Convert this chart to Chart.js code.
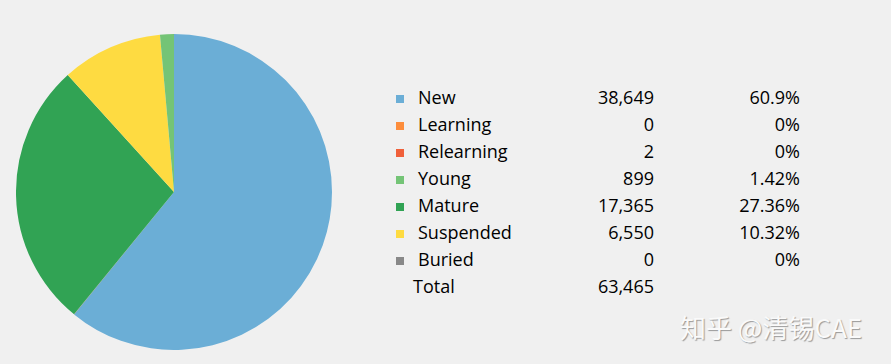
<!DOCTYPE html>
<html>
<head>
<meta charset="utf-8">
<script src="https://cdn.jsdelivr.net/npm/chart.js@4"></script>
<style>
  body { margin: 0; width: 891px; height: 364px; background: #f0f0f0; overflow: hidden; position: relative; font-family: "Open Sans", "Noto Sans", sans-serif; }
  #pieWrap { position: absolute; left: 16px; top: 34px; width: 316px; height: 316px; }
  #title { position: absolute; top: -24px; left: 0; width: 428px; text-align: center; font-size: 18px; color: #000; }
  #legend { position: absolute; left: 392px; top: 84px; border-collapse: collapse; font-size: 18px; color: #000; }
  #legend td { height: 27px; padding: 0; line-height: 27px; }
  .sw { width: 26px; }
  .sw span { display: inline-block; width: 8px; height: 8px; margin-left: 4px; vertical-align: middle; }
  .lbl { width: 150px; }
  .num { width: 86px; text-align: right; }
  .pct { width: 146px; text-align: right; }
  #mark { position: absolute; left: 680px; top: 308px; font-size: 26px; color: #fafafa; font-family: "Noto Sans CJK SC", sans-serif; text-shadow: 1px 1px 1px #999; letter-spacing: 0px; }
</style>
</head>
<body>
<div id="title">Card Composition</div>
<div id="pieWrap"><canvas id="pieChart" width="316" height="316"></canvas></div>
<table id="legend"></table>
<div id="mark">知乎 @清锡CAE</div>
<script>
const categories = ["New", "Learning", "Relearning", "Young", "Mature", "Suspended", "Buried"];
const counts = [38649, 0, 2, 899, 17365, 6550, 0];
const percentLabels = ["60.9%", "0%", "0%", "1.42%", "27.36%", "10.32%", "0%"];
const colors = ["#6baed6", "#fd8d3c", "#f0603a", "#74c476", "#31a354", "#fedb41", "#888888"];
const totalLabel = "63,465";
// order the slices are drawn in, clockwise from the top
const pieOrder = [0, 1, 2, 4, 5, 3, 6];

const legend = document.getElementById("legend");
categories.forEach((c, i) => {
  legend.innerHTML += `<tr>
    <td class="sw"><span style="background:${colors[i]}"></span></td>
    <td class="lbl">${c}</td>
    <td class="num">${counts[i].toLocaleString("en-US")}</td>
    <td class="pct">${percentLabels[i]}</td>
  </tr>`;
});
legend.innerHTML += `<tr><td></td><td class="lbl" style="position:relative;left:-5px">Total</td><td class="num">${totalLabel}</td><td></td></tr>`;

new Chart(document.getElementById("pieChart"), {
  type: "pie",
  data: {
    labels: pieOrder.map((i) => categories[i]),
    datasets: [{
      data: pieOrder.map((i) => counts[i]),
      backgroundColor: pieOrder.map((i) => colors[i]),
      borderWidth: 0,
    }],
  },
  options: {
    responsive: false,
    animation: false,
    layout: { padding: 0 },
    plugins: { legend: { display: false }, tooltip: { enabled: false } },
  },
});
</script>
</body>
</html>
